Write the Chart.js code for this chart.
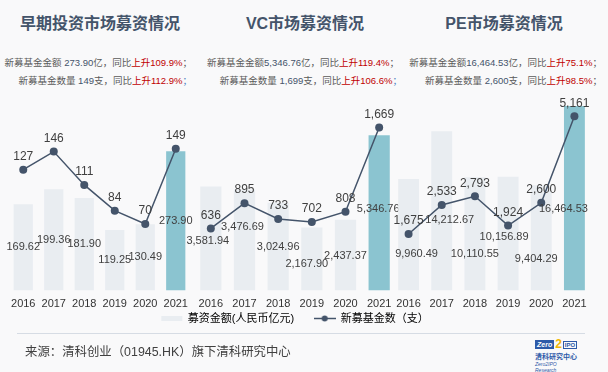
<!DOCTYPE html>
<html>
<head>
<meta charset="utf-8">
<script src="https://cdn.jsdelivr.net/npm/chart.js@4.4.1/dist/chart.umd.min.js"></script>
<style>
  body { margin: 0; background: #f9f9fa; font-family: "Liberation Sans", "Noto Sans CJK SC", sans-serif; }
  #wrap { position: relative; width: 608px; height: 372px; overflow: hidden; }
  canvas { position: absolute; }
  .title { position: absolute; top: 13px; line-height: 22px; font-size: 16px; font-weight: bold; color: #44546a; white-space: nowrap; transform: translateX(-50%); }
  .note { position: absolute; font-size: 9.5px; line-height: 12px; color: #595959; white-space: nowrap; }
  .num { color: #44546a; }
  .up { color: #c00000; }
  .semi { color: #4f81bd; }
  #rule { position: absolute; left: 17px; top: 333px; width: 568px; height: 1px; background: #d6dce4; }
  #source { position: absolute; left: 25px; top: 344px; font-size: 12.4px; line-height: 16px; color: #404040; white-space: nowrap; }
  #logo { position: absolute; left: 535px; top: 339px; width: 44px; color: #2e5aa8; }
</style>
</head>
<body>
<div id="wrap">
  <div class="title" style="left:100px">早期投资市场募资情况</div>
  <div class="title" style="left:305px">VC市场募资情况</div>
  <div class="title" style="left:504px">PE市场募资情况</div>

  <div class="note" style="right:416px;top:57px">新募基金金额 <span class="num">273.90</span>亿，同比<span class="up">上升109.9%</span>；</div>
  <div class="note" style="right:416px;top:75px">新募基金数量 <span class="num">149</span>支，同比<span class="up">上升112.9%</span><span class="semi">；</span></div>
  <div class="note" style="right:209px;top:57px">新募基金金额<span class="num">5,346.76</span>亿，同比<span class="up">上升119.4%</span>；</div>
  <div class="note" style="right:206px;top:75px">新募基金数量 <span class="num">1,699</span>支，同比<span class="up">上升106.6%</span><span class="semi">；</span></div>
  <div class="note" style="right:6px;top:57px">新募基金金额<span class="num">16,464.53</span>亿，同比<span class="up">上升75.1%</span>；</div>
  <div class="note" style="right:6px;top:75px">新募基金数量 <span class="num">2,600</span>支，同比<span class="up">上升98.5%</span>；</div>

  <canvas id="seed" width="223" height="237" style="left:-12px;top:80px"></canvas>
  <canvas id="vc" width="242" height="237" style="left:174px;top:80px"></canvas>
  <canvas id="pe" width="239" height="237" style="left:372px;top:80px"></canvas>
  <canvas id="legend" width="330" height="60" style="left:130px;top:293px"></canvas>

  <div id="rule"></div>
  <div id="source">来源：清科创业（01945.HK）旗下清科研究中心</div>
  <div id="logo">
    <div style="display:flex;align-items:center;height:11px">
      <span style="background:#2e5aa8;color:#fff;font:italic bold 7px 'Liberation Sans';padding:1px 2px;line-height:7px">Zero</span>
      <span style="color:#f2b705;font:bold 12px 'Liberation Sans';line-height:11px;margin:0 1px">2</span>
      <span style="border:1px solid #2e5aa8;font:bold 6px 'Liberation Sans';padding:0 1px;line-height:6px">IPO</span>
    </div>
    <div style="font:bold 7px 'Noto Sans CJK SC';line-height:9px;margin-top:2px">清科研究中心</div>
    <div style="font:italic 5px 'Liberation Sans';line-height:6px">Zero2IPO Research</div>
  </div>
</div>

<script>
const years = ["2016", "2017", "2018", "2019", "2020", "2021"];
// 募资金额(人民币亿元)
const seedAmount = [169.62, 199.36, 181.90, 119.25, 130.49, 273.90];
const vcAmount = [3581.94, 3476.69, 3024.96, 2167.90, 2437.37, 5346.76];
const peAmount = [9960.49, 14212.67, 10110.55, 10156.89, 9404.29, 16464.53];
// 新募基金数（支）
const seedCount = [127, 146, 111, 84, 70, 149];
const vcCount = [636, 895, 733, 702, 808, 1669];
const peCount = [1675, 2533, 2793, 1924, 2600, 5161];

const grey = "#e9edf1";
const teal = "#8bc4d0";
const slate = "#44546a";
const textColor = "#404040";
const numFont = '"Liberation Sans", Arial, sans-serif';

const fmtAmount = (v) => v.toLocaleString("en-US", { minimumFractionDigits: 2, maximumFractionDigits: 2 });
const fmtCount = (v) => v.toLocaleString("en-US");

// value labels: amounts around the middle of each bar (nudged where they would collide), counts above each point
const valueLabels = {
    id: "valueLabels",
    afterDatasetsDraw(chart, args, opts) {
        const ctx = chart.ctx;
        const dx = opts.dx || [];
        const dy = opts.dy || [];
        ctx.save();
        ctx.fillStyle = textColor;
        ctx.textAlign = "center";
        ctx.textBaseline = "middle";
        ctx.font = "11px " + numFont;
        chart.getDatasetMeta(0).data.forEach((bar, i) => {
            ctx.fillText(
                fmtAmount(chart.data.datasets[0].data[i]),
                bar.x + (dx[i] || 0),
                (bar.y + bar.base) / 2 + (dy[i] || 0)
            );
        });
        ctx.font = "12px " + numFont;
        chart.getDatasetMeta(1).data.forEach((pt, i) => {
            ctx.fillText(fmtCount(chart.data.datasets[1].data[i]), pt.x, pt.y - 13);
        });
        ctx.restore();
    },
};

function panel(id, amounts, counts, barMax, lineMax, dx, dy) {
    new Chart(document.getElementById(id), {
        type: "bar",
        data: {
            labels: years,
            datasets: [
                {
                    label: "募资金额(人民币亿元)",
                    data: amounts,
                    backgroundColor: amounts.map((v, i) => (i === amounts.length - 1 ? teal : grey)),
                    barPercentage: 0.63,
                    categoryPercentage: 1,
                    yAxisID: "y",
                    order: 2,
                },
                {
                    type: "line",
                    label: "新募基金数（支）",
                    data: counts,
                    borderColor: slate,
                    borderWidth: 1.5,
                    pointRadius: 4,
                    pointBackgroundColor: slate,
                    pointBorderWidth: 0,
                    tension: 0,
                    clip: false,
                    yAxisID: "y1",
                    order: 1,
                },
            ],
        },
        options: {
            responsive: false,
            animation: false,
            events: [],
            layout: { padding: { left: 20, right: 20, top: 0, bottom: 0 } },
            scales: {
                x: {
                    grid: { display: false, drawTicks: false },
                    border: { display: false },
                    ticks: {
                        color: "#333",
                        font: { size: 11, family: numFont, lineHeight: 2.4 },
                        padding: 0,
                        maxRotation: 0,
                    },
                },
                y: { display: false, min: 0, max: barMax },
                y1: { display: false, min: 0, max: lineMax, position: "right" },
            },
            plugins: {
                legend: { display: false },
                tooltip: { enabled: false },
                valueLabels: { dx: dx, dy: dy },
            },
        },
        plugins: [valueLabels],
    });
}

panel("seed", seedAmount, seedCount, 406, 217, [], []);
panel("vc", vcAmount, vcCount, 7110, 2115, [-3, -2, 0, -5, 0, -1], [2, -13, 0, 5, 1, -4]);
panel("pe", peAmount, peCount, 18430, 6116, [8, 8, 0, -4, -5, -11], [19, 9, 20, 3, 21, 11]);

// small line-with-dot icon for the legend
const lineIcon = document.createElement("canvas");
lineIcon.width = 22;
lineIcon.height = 9;
const ic = lineIcon.getContext("2d");
ic.strokeStyle = slate;
ic.lineWidth = 1.5;
ic.beginPath();
ic.moveTo(0, 4.5);
ic.lineTo(22, 4.5);
ic.stroke();
ic.fillStyle = slate;
ic.beginPath();
ic.arc(11, 4.5, 3, 0, Math.PI * 2);
ic.fill();

new Chart(document.getElementById("legend"), {
    type: "bar",
    data: {
        labels: [],
        datasets: [
            { label: "募资金额(人民币亿元)", data: [], backgroundColor: grey },
            { type: "line", label: "新募基金数（支）", data: [], borderColor: slate },
        ],
    },
    options: {
        responsive: false,
        animation: false,
        events: [],
        scales: { x: { display: false }, y: { display: false } },
        plugins: {
            tooltip: { enabled: false },
            legend: {
                display: true,
                position: "top",
                maxHeight: 60,
                labels: {
                    usePointStyle: true,
                    pointStyleWidth: 21,
                    boxHeight: 5,
                    padding: 20,
                    color: textColor,
                    font: { size: 11, family: '"Liberation Sans", "Noto Sans CJK SC", sans-serif' },
                    generateLabels: (chart) =>
                        chart.data.datasets.map((ds, i) => ({
                            text: ds.label,
                            fillStyle: i === 0 ? grey : slate,
                            strokeStyle: i === 0 ? grey : slate,
                            lineWidth: 0,
                            pointStyle: i === 0 ? "rect" : lineIcon,
                            hidden: false,
                            datasetIndex: i,
                        })),
                },
            },
        },
    },
});
</script>
</body>
</html>
